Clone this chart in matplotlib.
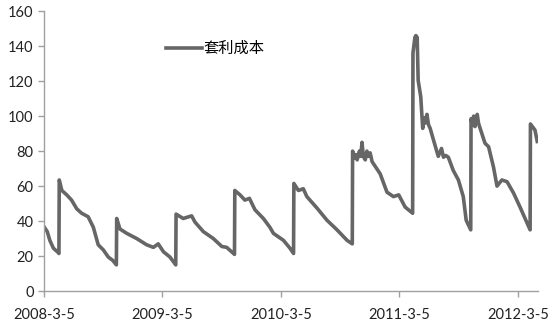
import matplotlib
matplotlib.use("Agg")
import matplotlib.pyplot as plt
import pandas as pd

plt.rcParams['font.family'] = ['Lato', 'Noto Sans CJK SC', 'DejaVu Sans']

# arbitrage cost series
dates = [
    "2008-03-06", "2008-03-15", "2008-03-23", "2008-04-03", "2008-04-18", "2008-04-20",
    "2008-04-21", "2008-04-29", "2008-05-14", "2008-05-29", "2008-06-14", "2008-06-29",
    "2008-07-19", "2008-08-04", "2008-08-19", "2008-09-04", "2008-09-19", "2008-10-03",
    "2008-10-14", "2008-10-15", "2008-10-25", "2008-11-15", "2008-12-16", "2009-01-15",
    "2009-02-05", "2009-02-20", "2009-03-08", "2009-03-28", "2009-04-15", "2009-04-16",
    "2009-05-08", "2009-06-03", "2009-06-13", "2009-07-09", "2009-08-09", "2009-09-04",
    "2009-09-19", "2009-10-13", "2009-10-14", "2009-10-30", "2009-11-14", "2009-11-28",
    "2009-12-15", "2010-01-10", "2010-01-30", "2010-02-10", "2010-03-13", "2010-04-02",
    "2010-04-13", "2010-04-14", "2010-04-28", "2010-05-13", "2010-05-24", "2010-06-24",
    "2010-07-25", "2010-08-25", "2010-09-25", "2010-10-11", "2010-10-12", "2010-10-18",
    "2010-10-22", "2010-10-26", "2010-11-02", "2010-11-06", "2010-11-10", "2010-11-14",
    "2010-11-20", "2010-11-25", "2010-11-30", "2010-12-05", "2010-12-11", "2011-01-05",
    "2011-01-26", "2011-02-15", "2011-03-03", "2011-03-23", "2011-04-15", "2011-04-16",
    "2011-04-22", "2011-04-25", "2011-04-29", "2011-05-02", "2011-05-10", "2011-05-16",
    "2011-05-20", "2011-05-24", "2011-05-29", "2011-06-03", "2011-06-08", "2011-06-18",
    "2011-07-03", "2011-07-13", "2011-07-19", "2011-07-26", "2011-08-03", "2011-08-18",
    "2011-09-03", "2011-09-18", "2011-09-27", "2011-10-11", "2011-10-12", "2011-10-16",
    "2011-10-20", "2011-10-24", "2011-10-28", "2011-10-31", "2011-11-04", "2011-11-09",
    "2011-11-24", "2011-12-05", "2011-12-20", "2011-12-31", "2012-01-15", "2012-01-31",
    "2012-02-20", "2012-03-11", "2012-04-11", "2012-04-12", "2012-04-26", "2012-05-03",
]
cost = [
    36.5, 34, 29, 24.5, 22, 21.5,
    63.5, 57.5, 55, 52, 47, 44.5,
    42.5, 36.5, 26.5, 23.5, 19.5, 17.5,
    15, 41.5, 35.5, 33, 30, 26.5,
    25, 27, 22.5, 19.5, 15, 44,
    41.5, 43, 39.5, 34, 30, 25.5,
    25, 21, 57.5, 55, 52, 53,
    46.5, 41.5, 36.5, 33, 29, 24.5,
    21.5, 61.5, 57.5, 58.5, 54, 47.5,
    40.5, 35, 29, 27, 80, 76,
    78, 75, 80, 77, 85, 77,
    75, 80, 77, 79, 74, 67,
    56.5, 54, 55, 48, 44.5, 136,
    145, 146, 145, 120.5, 111, 93,
    99, 96, 101, 95, 93, 86.5,
    77, 81.5, 76.5, 77.5, 76.5, 69,
    63.5, 54, 40.5, 35, 98.5, 95,
    100, 94, 97, 101, 96, 93,
    84.5, 82.5, 71, 60, 63.5, 62.5,
    56, 48, 35, 95.5, 92, 85.5,
]
tick_dates = ["2008-03-05", "2009-03-05", "2010-03-05", "2011-03-05", "2012-03-05"]
tick_labels = ["2008-3-5", "2009-3-5", "2010-3-5", "2011-3-5", "2012-3-5"]
yticks = [0, 20, 40, 60, 80, 100, 120, 140, 160]

fig = plt.figure(figsize=(5.5, 3.26), dpi=100)
ax = fig.add_axes([0.08, 0.107, 0.898, 0.859])

ax.plot(pd.to_datetime(dates), cost, color='#666666', lw=2.6, label='套利成本',
        solid_joinstyle='round')

ax.set_xlim(pd.Timestamp("2008-03-05"), pd.Timestamp("2012-05-05"))
ax.set_ylim(0, 160)
ax.set_yticks(yticks)
ax.set_xticks(pd.to_datetime(tick_dates))
ax.set_xticklabels(tick_labels)

for s in ['top', 'right']:
    ax.spines[s].set_visible(False)
for s in ['left', 'bottom']:
    ax.spines[s].set_color('#a0a0a0')
    ax.spines[s].set_linewidth(1.0)
ax.tick_params(axis='both', colors='#a0a0a0', labelcolor='#222222', labelsize=10.5,
               length=4, width=1.0, direction='out')
ax.tick_params(axis='x', pad=8)

leg = ax.legend(loc='upper left', bbox_to_anchor=(0.22, 0.94), frameon=False,
                fontsize=11, handlelength=2.3, handletextpad=0.15)

fig.savefig("out.png", dpi=100)
